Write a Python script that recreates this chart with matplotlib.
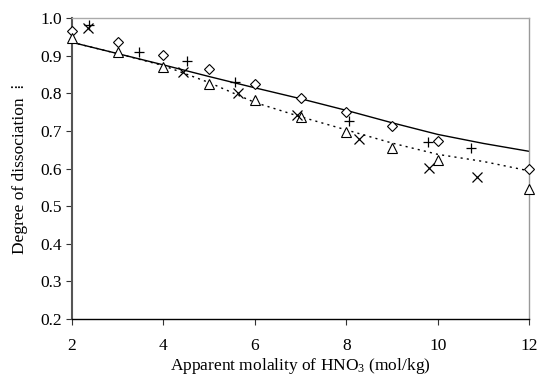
import matplotlib
matplotlib.use("Agg")
import matplotlib.pyplot as plt

# Data
diamond_x = [2, 3, 4, 5, 6, 7, 8, 9, 10, 12]
diamond_y = [0.966, 0.938, 0.902, 0.864, 0.825, 0.789, 0.751, 0.713, 0.673, 0.600]

triangle_x = [2, 3, 4, 5, 6, 7, 8, 9, 10, 12]
triangle_y = [0.948, 0.910, 0.871, 0.825, 0.783, 0.738, 0.697, 0.656, 0.623, 0.545]

plus_x = [2.37, 3.47, 4.52, 5.57, 8.06, 9.79, 10.72]
plus_y = [0.982, 0.911, 0.887, 0.830, 0.728, 0.672, 0.656]

cross_x = [2.36, 4.43, 5.64, 6.91, 8.28, 9.81, 10.85]
cross_y = [0.973, 0.856, 0.800, 0.743, 0.679, 0.601, 0.579]

solid_x = [2, 3, 4, 5, 6, 7, 8, 9, 10, 11, 12]
solid_y = [0.936, 0.906, 0.876, 0.845, 0.815, 0.786, 0.755, 0.722, 0.691, 0.667, 0.646]

dotted_x = [2, 3, 4, 5, 6, 7, 8, 9, 10, 11, 12]
dotted_y = [0.936, 0.906, 0.874, 0.829, 0.776, 0.738, 0.703, 0.668, 0.638, 0.619, 0.594]

x_ticks = [2, 4, 6, 8, 10, 12]
y_ticks = [0.2, 0.3, 0.4, 0.5, 0.6, 0.7, 0.8, 0.9, 1.0]

plt.rcParams['font.family'] = ['Liberation Serif', 'DejaVu Sans']
plt.rcParams['mathtext.fontset'] = 'custom'
plt.rcParams['mathtext.rm'] = 'Liberation Serif'
plt.rcParams['mathtext.it'] = 'Liberation Serif:italic'
plt.rcParams['mathtext.bf'] = 'Liberation Serif:bold'

fig = plt.figure(figsize=(5.40, 3.77), dpi=100)
ax = fig.add_axes([0.1333, 0.1538, 0.8469, 0.7977])

ax.plot(solid_x, solid_y, color='black', lw=1.0, zorder=2)
ax.plot(dotted_x, dotted_y, color='black', lw=1.0, ls=(0, (1.5, 3)), zorder=2)

ax.plot(diamond_x, diamond_y, ls='none', marker='D', ms=5.5, mfc='white',
        mec='black', mew=0.8, zorder=3, clip_on=False)
ax.plot(triangle_x, triangle_y, ls='none', marker='^', ms=7, mfc='white',
        mec='black', mew=0.8, zorder=3, clip_on=False)
ax.plot(plus_x, plus_y, ls='none', marker='+', ms=7.5, color='black',
        mew=0.9, zorder=4, clip_on=False)
ax.plot(cross_x, cross_y, ls='none', marker='x', ms=6.5, color='black',
        mew=0.9, zorder=4, clip_on=False)

ax.set_xlim(2, 12)
ax.set_ylim(0.2, 1.0)
ax.set_xticks(x_ticks)
ax.set_xticklabels([str(v) for v in x_ticks])
ax.set_yticks(y_ticks)
ax.set_yticklabels([f"{v:.1f}" for v in y_ticks])

ax.tick_params(axis='both', direction='out', labelsize=12.5, length=4,
               width=0.8, color='#333333', pad=3)
ax.tick_params(axis='x', pad=10)

ax.spines['left'].set_color('#555555')
ax.spines['left'].set_linewidth(1.5)
ax.spines['bottom'].set_color('black')
ax.spines['bottom'].set_linewidth(1.0)
ax.spines['top'].set_color('#aaaaaa')
ax.spines['top'].set_linewidth(1.0)
ax.spines['right'].set_color('#999999')
ax.spines['right'].set_linewidth(1.0)

ax.set_xlabel('Apparent molality of HNO$_3$ (mol/kg)', fontsize=12.5, labelpad=1)
ax.set_ylabel('Degree of dissociation  \u205e', fontsize=12.5, labelpad=9)

fig.savefig('out.png', dpi=100)
